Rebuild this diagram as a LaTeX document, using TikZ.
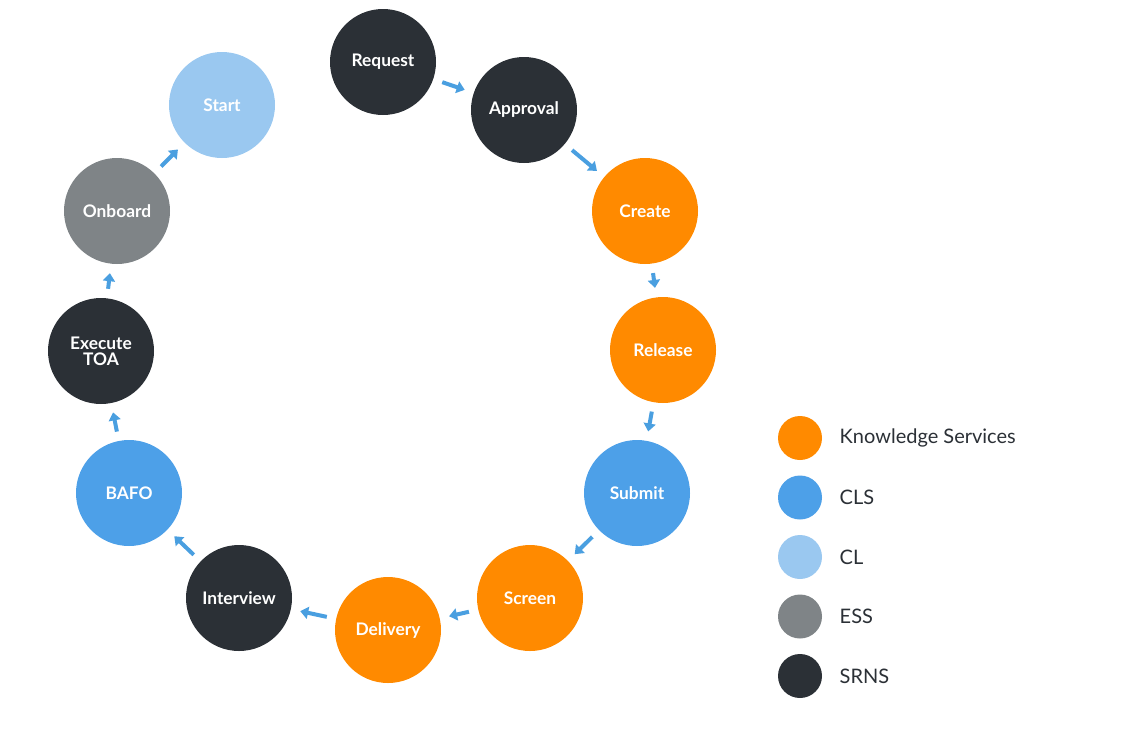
\documentclass[tikz,border=0pt]{standalone}
\usepackage{fontspec}
\setmainfont{Lato}
\usetikzlibrary{arrows.meta}
\definecolor{srns}{HTML}{2B3036}
\definecolor{ks}{HTML}{FF8A00}
\definecolor{cls}{HTML}{4DA0E8}
\definecolor{cl}{HTML}{9AC8F0}
\definecolor{ess}{HTML}{7F8487}
\definecolor{arr}{HTML}{4A9FE0}
\begin{document}
\begin{tikzpicture}[x=0.75pt,y=-0.75pt,
    step/.style={circle,fill=#1,minimum size=79.5pt,inner sep=0pt,text=white,
      font=\bfseries\fontsize{13}{14}\selectfont,align=center},
    key/.style={circle,fill=#1,minimum size=33pt,inner sep=0pt},
    keytext/.style={anchor=west,text=srns,font=\fontsize{15}{16}\selectfont},
    flow/.style={draw=arr,line width=3pt,-{Triangle[length=6pt,width=9pt]},
      shorten <=7pt,shorten >=7pt}]
    \useasboundingbox (0,0) rectangle (1126,750);

    \node[step=srns] (request) at (383,62) {Request};
    \node[step=srns] (approval) at (524,110) {Approval};
    \node[step=ks] (create) at (645,211) {Create};
    \node[step=ks] (release) at (663,350) {Release};
    \node[step=cls] (submit) at (637,493) {Submit};
    \node[step=ks] (screen) at (530,598) {Screen};
    \node[step=ks] (delivery) at (388,630) {Delivery};
    \node[step=srns] (interview) at (239,598) {Interview};
    \node[step=cls] (bafo) at (129,493) {BAFO};
    \node[step=srns] (toa) at (101,351) {Execute\\[-2pt]TOA};
    \node[step=ess] (onboard) at (117,211) {Onboard};
    \node[step=cl] (start) at (222,105) {Start};

    \foreach \a/\b in {request/approval, approval/create, create/release,
        release/submit, submit/screen, screen/delivery, delivery/interview,
        interview/bafo, bafo/toa, toa/onboard, onboard/start}
        \draw[flow] (\a) -- (\b);

    % legend
    \foreach \c/\t [count=\i] in {ks/Knowledge Services, cls/CLS, cl/CL,
        ess/ESS, srns/SRNS} {
        \node[key=\c] (key\i) at (800,{438+59.5*(\i-1)}) {};
        \node[keytext] (label\i) at (835,{438+59.5*(\i-1)}) {\t};
    }
\end{tikzpicture}
\end{document}
